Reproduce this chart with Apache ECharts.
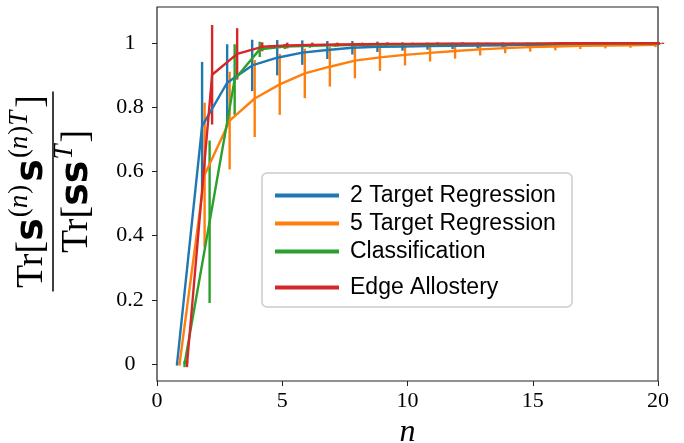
<!DOCTYPE html>
<html><head><meta charset="utf-8">
<script src="https://cdn.jsdelivr.net/npm/echarts@6/dist/echarts.min.js"></script>
<style>html,body{margin:0;padding:0;background:#fff}#c{width:684px;height:443px}</style>
</head><body><div id="c"></div>
<script>
// ---------- data ----------
const nValues = [1,2,3,4,5,6,7,8,9,10,11,12,13,14,15,16,17,18,19,20];
const seriesNames = ['2 Target Regression','5 Target Regression','Classification','Edge Allostery'];
const mean2Target = [0,0.741,0.876,0.930,0.954,0.970,0.978,0.985,0.988,0.989,0.990,0.991,0.992,0.993,0.994,0.994,0.995,0.995,0.996,0.996];
const err2Target  = [0.005,0.200,0.120,0.080,0.055,0.038,0.028,0.021,0.016,0.013,0.011,0.010,0.009,0.008,0.007,0.006,0.005,0.005,0.004,0.004];
const mean5Target = [0,0.589,0.758,0.827,0.871,0.905,0.926,0.945,0.955,0.963,0.969,0.975,0.980,0.984,0.987,0.989,0.991,0.992,0.993,0.994];
const err5Target  = [0.005,0.225,0.152,0.120,0.095,0.077,0.062,0.055,0.042,0.033,0.027,0.024,0.019,0.016,0.014,0.012,0.010,0.009,0.008,0.007];
const meanClass   = [0,0.443,0.886,0.980,0.989,0.991,0.993,0.994,0.995,0.996,0.996,0.997,0.997,0.997,0.998,0.998,0.998,0.998,0.998,0.998];
const errClass    = [0.010,0.253,0.110,0.024,0.008,0.006,0.005,0.004,0.004,0.003,0.003,0.003,0.003,0.002,0.002,0.002,0.002,0.002,0.002,0.002];
const meanEdge    = [0,0.901,0.966,0.988,0.992,0.994,0.995,0.996,0.997,0.997,0.998,0.998,0.998,0.998,0.998,0.999,0.999,0.999,0.999,0.999];
const errEdge     = [0.010,0.155,0.080,0.014,0.009,0.007,0.006,0.005,0.005,0.004,0.004,0.004,0.003,0.003,0.003,0.003,0.003,0.002,0.002,0.002];
const xOffsets = [-0.2,-0.1,0.1,0.2];
const xTicks = [0,5,10,15,20];
const yTicks = [0,0.2,0.4,0.6,0.8,1];

// ---------- styling ----------
const colors = ['#1f77b4','#ff7f0e','#2ca02c','#d62728'];
const means = [mean2Target, mean5Target, meanClass, meanEdge];
const errs = [err2Target, err5Target, errClass, errEdge];
const LW = 2.4;

const series = [];
seriesNames.forEach((name, k) => {
  series.push({
    name: name, type: 'line', symbol: 'none', color: colors[k],
    lineStyle: {width: LW, color: colors[k]}, animation: false,
    data: nValues.map((n, i) => [n + xOffsets[k], means[k][i]])
  });
  series.push({
    name: name + ' err', type: 'custom', animation: false, clip: false,
    encode: {x: 0, y: [1, 2]},
    data: nValues.map((n, i) => [n + xOffsets[k], means[k][i] - errs[k][i], means[k][i] + errs[k][i]]),
    renderItem: (params, api) => {
      const a = api.coord([api.value(0), api.value(1)]);
      const b = api.coord([api.value(0), api.value(2)]);
      return {type: 'line', shape: {x1: a[0], y1: a[1], x2: b[0], y2: b[1]},
              style: {stroke: colors[k], lineWidth: LW}};
    }
  });
});

// ---------- y-axis fraction label ----------
const ctx = document.createElement('canvas').getContext('2d');
function tw(font, t){ ctx.font = font; return ctx.measureText(t).width; }
const MAIN = 38, SUP = 27, RAISE = 15;
const fMain = MAIN + 'px "Liberation Serif"';
const fBold = 'bold ' + MAIN + 'px "DejaVu Sans"';
const fSupR = SUP + 'px "Liberation Serif"';
const fSupI = 'italic ' + SUP + 'px "Liberation Serif"';
function row(pieces, baseY){
  const widthOf = p => tw(p[1], p[0]) + (p[3] || 0);
  const total = pieces.reduce((s, p) => s + widthOf(p), 0);
  let x = -total / 2; const out = [];
  pieces.forEach(p => {
    const size = p[1].indexOf(SUP + 'px') >= 0 ? SUP : MAIN;
    out.push({type: 'text', x: x, y: baseY - p[2] - 0.32 * size,
      style: {text: p[0], font: p[1], fill: '#000', align: 'left', verticalAlign: 'middle'}});
    x += widthOf(p);
  });
  return out;
}
const numer = row([
  ['Tr', fMain, 0], ['[', fMain, 0], ['s', fBold, 0, 1],
  ['(', fSupR, RAISE], ['n', fSupI, RAISE, 1], [')', fSupR, RAISE, 3],
  ['s', fBold, 0, 1],
  ['(', fSupR, RAISE], ['n', fSupI, RAISE, 1], [')', fSupR, RAISE], ['T', fSupI, RAISE, 3],
  [']', fMain, 0]
], -9);
const denom = row([
  ['Tr', fMain, 0], ['[', fMain, 0], ['ss', fBold, 0, 1], ['T', fSupI, RAISE, 2], [']', fMain, 0]
], 36);

const chart = echarts.init(document.getElementById('c'), null, {renderer: 'canvas'});
chart.setOption({
  animation: false,
  backgroundColor: '#fff',
  grid: {left: 157, right: 26, top: 7, bottom: 62, show: true, borderColor: '#222', borderWidth: 1.2,
         backgroundColor: 'transparent', containLabel: false, outerBoundsMode: 'none'},
  xAxis: {
    type: 'value', min: 0, max: 20, interval: 5,
    axisLine: {show: false, onZero: false}, splitLine: {show: false},
    axisTick: {show: true, inside: false, length: 5, lineStyle: {color: '#222', width: 1}},
    axisLabel: {color: '#000', fontFamily: 'Liberation Serif', fontSize: 22, margin: 9},
    name: 'n', nameLocation: 'middle', nameGap: 35,
    nameTextStyle: {color: '#000', fontFamily: 'Liberation Serif', fontStyle: 'italic', fontSize: 32}
  },
  yAxis: {
    type: 'value', min: -0.053, max: 1.112,
    axisLine: {show: false, onZero: false}, splitLine: {show: false},
    axisTick: {show: true, inside: false, length: 5, customValues: yTicks, lineStyle: {color: '#222', width: 1}},
    axisLabel: {color: '#000', fontFamily: 'Liberation Serif', fontSize: 22, margin: 27, align: 'center', customValues: yTicks}
  },
  legend: [
    {data: seriesNames.slice(0, 3), orient: 'vertical', left: 275, top: 184, padding: 0,
     itemWidth: 64, itemHeight: 4, icon: 'rect', itemGap: 5, selectedMode: false,
     textStyle: {color: '#000', fontFamily: 'Liberation Sans', fontSize: 23, padding: [0, 0, 0, 6]}},
    {data: seriesNames.slice(3), orient: 'vertical', left: 275, top: 276, padding: 0,
     itemWidth: 64, itemHeight: 4, icon: 'rect', selectedMode: false,
     textStyle: {color: '#000', fontFamily: 'Liberation Sans', fontSize: 23, padding: [0, 0, 0, 6]}}
  ],
  graphic: [
    {type: 'rect', z: 3, shape: {x: 262, y: 173, width: 310, height: 134, r: 5},
     style: {fill: 'rgba(255,255,255,0.8)', stroke: '#cccccc', lineWidth: 1.5}},
    {type: 'group', x: 53, y: 191.5, rotation: Math.PI / 2,
     children: [
       {type: 'line', shape: {x1: -100, y1: 0, x2: 100, y2: 0}, style: {stroke: '#000', lineWidth: 1.5}}
     ].concat(numer, denom)}
  ],
  series: series
});
</script>
</body></html>
